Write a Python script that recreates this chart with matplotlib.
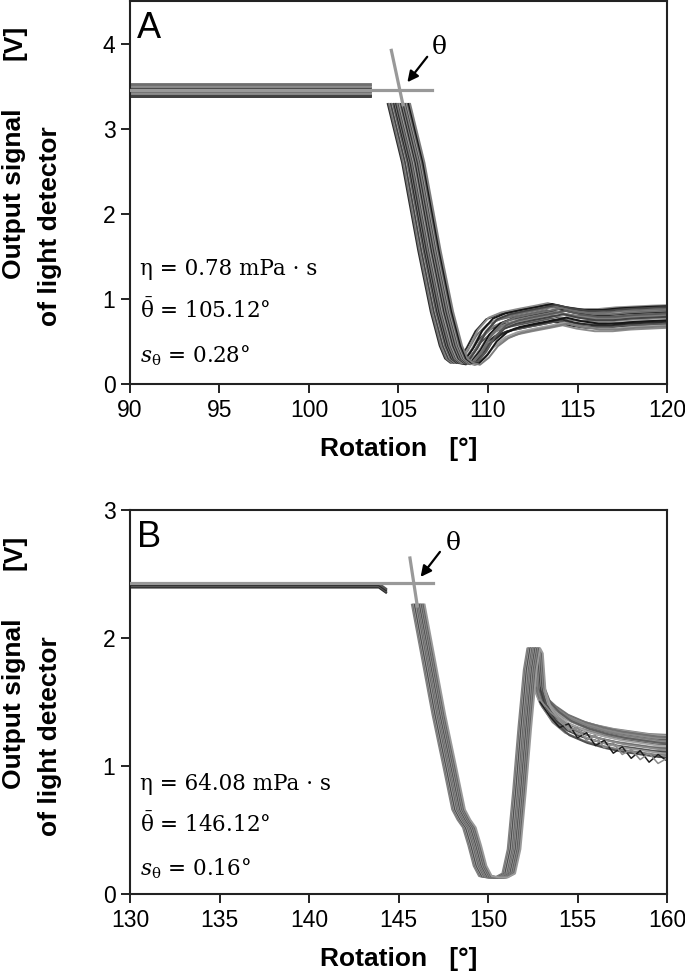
import matplotlib
matplotlib.use("Agg")
import numpy as np
import matplotlib.pyplot as plt

plt.rcParams["font.family"] = ["Liberation Sans", "DejaVu Sans"]
plt.rcParams["mathtext.fontset"] = "dejavuserif"

# ---- panel A data ----
A_XLIM = (90, 120)
A_YLIM = (0, 4.5)
A_FLAT_END = 103.4
A_FLAT_LEVELS = [3.38, 3.40, 3.42, 3.44, 3.46, 3.48, 3.50, 3.52]
A_BASE_X = [104.4, 105.2, 106.1, 106.8, 107.3, 107.6, 107.9, 108.3, 108.8, 109.3,
            109.9, 110.6, 111.5, 112.5, 113.2, 114.0, 115.0, 116.0, 117.0, 118.0,
            119.0, 120.5]
A_BASE_Y = [3.29, 2.60, 1.57, 0.85, 0.45, 0.30, 0.25, 0.27, 0.42, 0.62,
            0.76, 0.82, 0.86, 0.90, 0.93, 0.89, 0.86, 0.86, 0.88, 0.89,
            0.90, 0.91]
A_TAIL_W = [0, 0, 0, 0, 0, 0, 0, 0.2, 0.5, 0.8, 1, 1, 1, 1, 1, 1, 1, 1, 1, 1, 1, 1]
A_SHIFT = [0.00, 0.06, 0.14, 0.18, 0.27, 0.31, 0.38, 0.42, 0.47, 0.53, 0.58, 0.61,
           0.66, 0.72, 0.77, 0.81, 0.88, 0.93, 0.97, 1.02, 1.07, 1.12, 1.18, 1.25]
A_TAIL = [0.00, -0.06, 0.02, -0.12, -0.03, -0.16, 0.01, -0.08, -0.20, -0.02, -0.13, 0.00,
          -0.10, -0.19, -0.05, -0.09, -0.17, -0.04, -0.24, -0.11, -0.21, -0.07, -0.15, -0.22]
A_CROSS_Y = 3.45
A_CROSS_H = (90, 106.87)
A_CROSS_V = ([104.6, 105.25], [3.92, 3.28])
A_ARROW = ((106.70, 3.87), (105.40, 3.52))
A_THETA_POS = (107.3, 3.95)
A_TEXT = ["η = 0.78 mPa · s", r"$\bar{\mathrm{\theta}}$ = 105.12°", r"$s_{\mathrm{\theta}}$ = 0.28°"]

# ---- panel B data ----
B_XLIM = (130, 160)
B_YLIM = (0, 3)
B_FLAT_X = [130.0, 143.9, 144.3]
B_FLAT_DROP = [0.0, 0.0, -0.04]
B_FLAT_LEVELS = [2.395, 2.405, 2.415, 2.425]
B_BASE_X = [145.75, 146.3, 146.9, 147.5, 148.0, 148.3, 148.6, 148.9, 149.2, 149.5,
            149.9, 150.4, 150.8, 151.1, 151.4, 151.7, 152.0, 152.2, 152.35, 152.5,
            152.8, 153.3, 154.0, 155.0, 156.0, 157.0, 158.0, 159.0, 160.5]
B_BASE_Y = [2.26, 1.85, 1.40, 1.00, 0.66, 0.58, 0.52, 0.38, 0.22, 0.14,
            0.13, 0.13, 0.16, 0.35, 0.80, 1.30, 1.75, 1.92, 1.88, 1.62,
            1.52, 1.45, 1.38, 1.32, 1.28, 1.25, 1.23, 1.21, 1.20]
B_TAIL_W = [0, 0, 0, 0, 0, 0, 0, 0, 0, 0, 0, 0, 0, 0, 0, 0, 0, 0, 0, 0.3,
            0.6, 0.9, 1, 1, 1, 1, 1, 1, 1]
B_SHIFT = [0.00, 0.05, 0.09, 0.12, 0.17, 0.21, 0.24, 0.28, 0.31, 0.35, 0.38, 0.41,
           0.45, 0.48, 0.52, 0.55, 0.59, 0.63, 0.66, 0.71]
B_TAIL = [0.04, -0.02, 0.02, -0.06, 0.00, -0.09, 0.03, -0.04, -0.12, 0.01,
          -0.07, -0.02, -0.10, 0.02, -0.05, -0.14, -0.01, -0.08, -0.03, -0.11]
B_WAVY_X = [152.9, 153.5, 154.0, 154.5, 155.0, 155.5, 156.0, 156.5, 157.0, 157.5,
            158.0, 158.5, 159.0, 159.5, 160.0]
B_WAVY_Y1 = [1.50, 1.38, 1.30, 1.33, 1.22, 1.26, 1.16, 1.20, 1.10, 1.15,
             1.06, 1.12, 1.03, 1.09, 1.04]
B_WAVY_Y2 = [1.52, 1.42, 1.36, 1.28, 1.30, 1.20, 1.24, 1.14, 1.18, 1.09,
             1.13, 1.05, 1.10, 1.02, 1.06]
B_CROSS_Y = 2.43
B_CROSS_H = (130, 146.9)
B_CROSS_V = ([145.64, 146.05], [2.625, 2.25])
B_ARROW = ((147.41, 2.69), (146.14, 2.46))
B_THETA_POS = (148.05, 2.74)
B_TEXT = ["η = 64.08 mPa · s", r"$\bar{\mathrm{\theta}}$ = 146.12°", r"$s_{\mathrm{\theta}}$ = 0.16°"]

A_GRAYS = ["#2a2a2a", "#6e6e6e", "#8c8c8c", "#444444", "#a0a0a0", "#5a5a5a", "#161616", "#7d7d7d"]
B_GRAYS = ["#7f7f7f", "#8a8a8a", "#5e5e5e", "#9a9a9a", "#3e3e3e", "#717171", "#a5a5a5", "#505050"]
CROSS_COLOR = "#999999"


def style_axes(ax, xlim, ylim, yticks):
    ax.set_xlim(*xlim)
    ax.set_ylim(*ylim)
    ax.set_xticks(np.arange(xlim[0], xlim[1] + 1, 5))
    ax.set_yticks(yticks)
    ax.tick_params(direction="out", length=6.5, width=1.4, labelsize=16.5, pad=4, color="#222222")
    for sp in ax.spines.values():
        sp.set_linewidth(1.5)
        sp.set_color("#222222")
    ax.set_xlabel("Rotation   [°]", fontsize=19, fontweight="bold", labelpad=11)


def draw_bundle(ax, base_x, base_y, tail_w, shifts, tails, grays, lw=1.4):
    bx = np.array(base_x)
    by = np.array(base_y)
    tw = np.array(tail_w)
    for i, (s, t) in enumerate(zip(shifts, tails)):
        ax.plot(bx + s, by + t * tw, color=grays[i % len(grays)], lw=lw,
                solid_joinstyle="round", zorder=2)


def draw_theta(ax, cross_h, cross_y, cross_v, arrow, theta_pos):
    ax.plot(cross_h, [cross_y, cross_y], color=CROSS_COLOR, lw=2.3, zorder=4)
    ax.plot(cross_v[0], cross_v[1], color=CROSS_COLOR, lw=2.3, zorder=4)
    ax.annotate("", xy=arrow[1], xytext=arrow[0],
                arrowprops=dict(arrowstyle="-|>", color="black", lw=1.6, mutation_scale=16),
                zorder=5)
    ax.text(*theta_pos, "θ", fontsize=18, family="DejaVu Serif", ha="center", va="center")


def draw_stats(ax, lines, ys):
    for txt, y in zip(lines, ys):
        ax.text(0.019, y, txt, transform=ax.transAxes, fontsize=15.5,
                family="DejaVu Serif", va="baseline", ha="left")


fig = plt.figure(figsize=(6.85, 9.76), dpi=100)
ax_a = fig.add_axes([130 / 685, (976 - 384) / 976, 537 / 685, 383 / 976])
ax_b = fig.add_axes([130 / 685, (976 - 894) / 976, 537 / 685, 384 / 976])

# panel A
for i, lv in enumerate(A_FLAT_LEVELS):
    ax_a.plot([A_XLIM[0], A_FLAT_END], [lv, lv], color=A_GRAYS[(i * 3) % 4], lw=2.0, zorder=2)
draw_bundle(ax_a, A_BASE_X, A_BASE_Y, A_TAIL_W, A_SHIFT, A_TAIL, A_GRAYS)
draw_theta(ax_a, A_CROSS_H, A_CROSS_Y, A_CROSS_V, A_ARROW, A_THETA_POS)
draw_stats(ax_a, A_TEXT, [0.285, 0.172, 0.057])
style_axes(ax_a, A_XLIM, A_YLIM, [0, 1, 2, 3, 4])
ax_a.text(0.013, 0.903, "A", transform=ax_a.transAxes, fontsize=26, va="baseline", ha="left")

# panel B
fx = np.array(B_FLAT_X)
fd = np.array(B_FLAT_DROP)
for i, lv in enumerate(B_FLAT_LEVELS):
    ax_b.plot(fx, lv + fd, color=["#2a2a2a", "#555555"][i % 2], lw=1.6, zorder=2)
draw_bundle(ax_b, B_BASE_X, B_BASE_Y, B_TAIL_W, B_SHIFT, B_TAIL, B_GRAYS)
ax_b.plot(B_WAVY_X, B_WAVY_Y1, color="#1e1e1e", lw=1.1, zorder=2)
ax_b.plot(B_WAVY_X, B_WAVY_Y2, color="#8a8a8a", lw=1.1, zorder=2)
draw_theta(ax_b, B_CROSS_H, B_CROSS_Y, B_CROSS_V, B_ARROW, B_THETA_POS)
draw_stats(ax_b, B_TEXT, [0.271, 0.162, 0.049])
style_axes(ax_b, B_XLIM, B_YLIM, [0, 1, 2, 3])
ax_b.text(0.013, 0.903, "B", transform=ax_b.transAxes, fontsize=26, va="baseline", ha="left")

# y labels (two lines, unit at the top of the first line)
for off in (0, 510):
    fig.text(14 / 685, 1 - (194 + off) / 976, "Output signal", rotation=90,
             fontsize=19, fontweight="bold", ha="center", va="center")
    fig.text(14 / 685, 1 - (42 + off) / 976, "[V]", rotation=90,
             fontsize=19, fontweight="bold", ha="center", va="center")
    fig.text(50 / 685, 1 - (226 + off) / 976, "of light detector", rotation=90,
             fontsize=19, fontweight="bold", ha="center", va="center")

fig.savefig("out.png", dpi=100)
